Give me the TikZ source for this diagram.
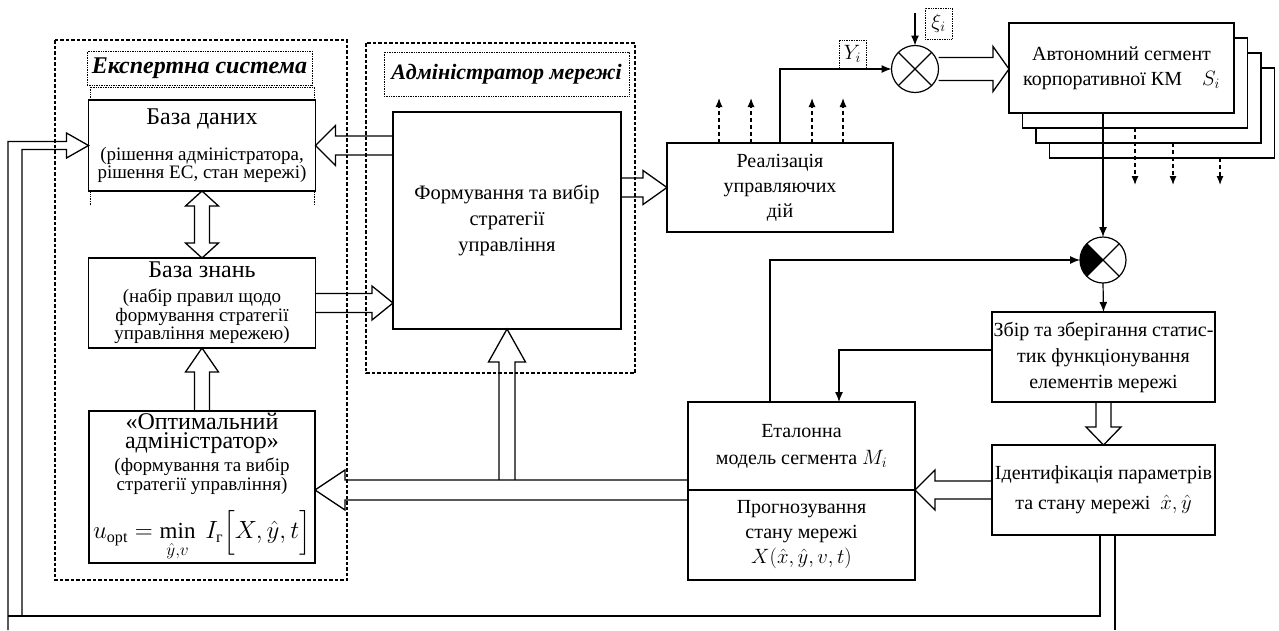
\documentclass[tikz,border=0pt]{standalone}
\usepackage{amsmath}
\usepackage{fontspec}
\setmainfont{Liberation Serif}
\usetikzlibrary{arrows.meta,calc}

\newcommand{\hfont}{\fontsize{24}{23}\selectfont}
\newcommand{\sfont}{\fontsize{19}{18.5}\selectfont}
\newcommand{\rfont}{\fontsize{20}{25}\selectfont}

% hollow arrow: from, tip, shaft half width, head half width, head length
\newcommand{\hollowarrow}[5]{%
  \path ($(#2)!#5!(#1)$) coordinate (hb);
  \draw[hollow] ($(#1)!#3!90:(#2)$) -- ($(hb)!#3!90:(#2)$) -- ($(hb)!#4!90:(#2)$) -- (#2)
    -- ($(hb)!#4!-90:(#2)$) -- ($(hb)!#3!-90:(#2)$) -- ($(#1)!#3!-90:(#2)$);
}
\newcommand{\hollowboth}[5]{%
  \path ($(#1)!#5!(#2)$) coordinate (ha) ($(#2)!#5!(#1)$) coordinate (hb);
  \draw[hollow] (#1) -- ($(ha)!#4!90:(#2)$) -- ($(ha)!#3!90:(#2)$) -- ($(hb)!#3!-90:(#1)$)
    -- ($(hb)!#4!-90:(#1)$) -- (#2) -- ($(hb)!#4!90:(#1)$) -- ($(hb)!#3!90:(#1)$)
    -- ($(ha)!#3!-90:(#2)$) -- ($(ha)!#4!-90:(#2)$) -- cycle;
}

\begin{document}
\begin{tikzpicture}[x=1pt,y=-1pt]
  \tikzstyle{block}=[draw,line width=1.4pt,fill=white,align=center,inner sep=0pt,outer sep=0pt]
  \tikzstyle{sblock}=[block,font=\sfont]
  \tikzstyle{rblock}=[block,font=\rfont]
  \tikzstyle{sumnode}=[draw,circle,line width=1.2pt,fill=white,minimum size=47pt,inner sep=0pt,outer sep=0pt]
  \tikzstyle{group}=[line width=1.4pt,dash pattern=on 3.5pt off 2pt]
  \tikzstyle{titlebox}=[draw,densely dotted,line width=0.7pt,inner sep=0pt,outer sep=0pt,font=\fontsize{24}{26}\selectfont\bfseries\itshape]
  \tikzstyle{tagbox}=[draw,densely dotted,line width=0.7pt,inner sep=0pt,outer sep=0pt,font=\rfont]
  \tikzstyle{hollow}=[line width=1.3pt,line join=miter]
  \tikzstyle{conn}=[line width=1.2pt]
  \tikzstyle{arr}=[conn,-{Latex[length=10pt,width=8pt]}]
  \tikzstyle{dasharr}=[conn,dash pattern=on 4pt off 3pt,-{Latex[length=9pt,width=7pt]}]
  \useasboundingbox (0,0) rectangle (1279,630);

  \draw[group] (55,40) rectangle (347,580);
  \draw[group] (366,43) rectangle (635,373);
  \draw[densely dotted,line width=0.7pt] (90,205) -- (90,87) -- (314,87) -- (314,205);
  \node[titlebox,minimum width=225pt,minimum height=34pt] (estitle) at (199.5,68) {Експертна система};
  \node[titlebox,minimum width=245pt,minimum height=44pt,font=\fontsize{22}{24}\selectfont\bfseries\itshape] (admtitle) at (506.5,74) {Адміністратор мережі};

  \node[sblock,minimum width=227pt,minimum height=91pt] (db) at (202,145.5)
    {\hfont База даних\\[17.5pt] (рішення адміністратора,\\рішення ЕС, стан мережі)};
  \node[sblock,minimum width=227pt,minimum height=90pt] (kb) at (202,303)
    {\hfont База знань\\[6.5pt] (набір правил щодо\\формування стратегії\\управління мережею)};
  \node[sblock,minimum width=226pt,minimum height=152pt] (opt) at (202,487)
    {\hfont «Оптимальний\\\hfont адміністратор»\\[4pt] (формування та вибір\\стратегії управління)\\[15pt]
     \fontsize{23}{24}\selectfont $u_{\mathrm{opt}}=\min\limits_{\hat{y},v}\ I_{\text{г}}\Bigl[X,\hat{y},t\Bigr]$};
  \node[block,minimum width=228pt,minimum height=217pt,font=\fontsize{20.5}{26}\selectfont] (form) at (507,220.5)
    {Формування та вибір\\стратегії\\управління};
  \node[rblock,minimum width=226pt,minimum height=89pt] (real) at (780,187.5) {Реалізація\\управляючих\\дій};
  \node[sumnode] (sum1) at (915,69) {};
  \node[tagbox,minimum width=27pt,minimum height=28pt] (ylab) at (852.5,54) {$Y_i$};
  \node[tagbox,minimum width=27pt,minimum height=31pt] (xilab) at (938.5,23.5) {$\xi_i$};

  \node[block,minimum width=225pt,minimum height=90pt] (seg3) at (1162,113) {};
  \node[block,minimum width=225pt,minimum height=90pt] (seg2) at (1148.5,98) {};
  \node[block,minimum width=225pt,minimum height=90pt] (seg1) at (1135,83) {};
  \node[rblock,minimum width=225pt,minimum height=90pt] (seg) at (1121.5,68)
    {Автономний сегмент\\корпоративної КМ\quad$S_i$};

  \node[sumnode,minimum size=46pt] (sum2) at (1103,260) {};
  \node[rblock,minimum width=223pt,minimum height=90pt,font=\fontsize{20}{26}\selectfont] (zbir) at (1103.5,357)
    {Збір та зберігання статис-\\тик функціонування\\елементів мережі};
  \node[rblock,minimum width=223pt,minimum height=90pt,font=\fontsize{20}{30}\selectfont] (ident) at (1103.5,490)
    {Ідентифікація параметрів\\та стану мережі\ \ $\hat{x},\hat{y}$};
  \node[rblock,minimum width=227pt,minimum height=88pt,font=\fontsize{20}{27}\selectfont] (etal) at (801.5,446)
    {Еталонна\\модель сегмента $M_i$};
  \node[rblock,minimum width=227pt,minimum height=90pt] (prog) at (801.5,535)
    {Прогнозування\\стану мережі\\$X(\hat{x},\hat{y},v,t)$};

  \draw[conn] (sum1.north west) -- (sum1.south east) (sum1.north east) -- (sum1.south west);
  \fill (sum2.center) \foreach \a in {135,150,...,225} {-- (sum2.\a)} -- cycle;
  \draw[conn] (sum2.north west) -- (sum2.south east) (sum2.north east) -- (sum2.south west);

  \coordinate (fdb) at (form.west |- db.east);
  \coordinate (kbf) at (form.west |- kb.east);
  \coordinate (fr) at (form.east |- real.west);
  \coordinate (sseg) at (seg.west |- sum1.east);
  \coordinate (eo) at (opt.east |- etal.south west);
  \coordinate (upf) at ($(form.south |- etal.south west)+(0,-10)$);
  \hollowarrow{fdb}{db.east}{9.5pt}{20pt}{20pt}
  \hollowboth{db.south}{kb.north}{7.5pt}{16.5pt}{15pt}
  \hollowarrow{opt.north}{kb.south}{7.5pt}{16.5pt}{24pt}
  \hollowarrow{kb.east}{kbf}{9.5pt}{17pt}{21pt}
  \hollowarrow{fr}{real.west}{9.5pt}{17pt}{24pt}
  \hollowarrow{sum1.east}{sseg}{11.5pt}{22.5pt}{16pt}
  \hollowarrow{zbir.south}{ident.north}{7.5pt}{17.5pt}{18pt}
  \hollowarrow{ident.west}{etal.south east}{9pt}{20pt}{20pt}
  \hollowarrow{etal.south west}{eo}{10pt}{20pt}{30pt}
  \hollowarrow{upf}{form.south}{8pt}{18.5pt}{33pt}

  \coordinate (fbout) at (8,630);
  \coordinate (fbin) at (22,616);
  \coordinate (fbcorner) at (8,616);
  \draw[hollow] (fbout) |- ($(db.west)+(-22,-4)$) -- ++(0,-8.5) -- (db.west)
    -- ($(db.west)+(-22,12.5)$) -- ++(0,-8.5) -| (fbin);
  \draw[hollow] (fbcorner) -| ($(ident.south)+(-3.5,0)$);
  \draw[hollow] ($(ident.south)+(11.5,0)$) -- ++(0,95);

  \coordinate (xitop) at (915,13);
  \draw[arr] (xitop) -- (sum1.north);
  \draw[arr] (real.north) |- (sum1.west);
  \foreach \dx in {-61,-29,32,63}
    \draw[dasharr] ($(real.north)+(\dx,0)$) -- ++(0,-45);
  \draw[dasharr] (seg1.south) -- ++(0,57);
  \draw[dasharr] ($(seg2.south)+(24.5,0)$) -- ++(0,42);
  \draw[dasharr] ($(seg3.south)+(58,0)$) -- ++(0,27);
  \draw[arr] (seg.south -| sum2.north) -- (sum2.north);
  \draw[arr] (sum2.south) -- (zbir.north);
  \draw[arr] ($(etal.north)+(-31.5,0)$) |- (sum2.west);
  \draw[arr] ($(zbir.west)+(0,-7)$) -| ($(etal.north)+(37.5,0)$);
\end{tikzpicture}
\end{document}
